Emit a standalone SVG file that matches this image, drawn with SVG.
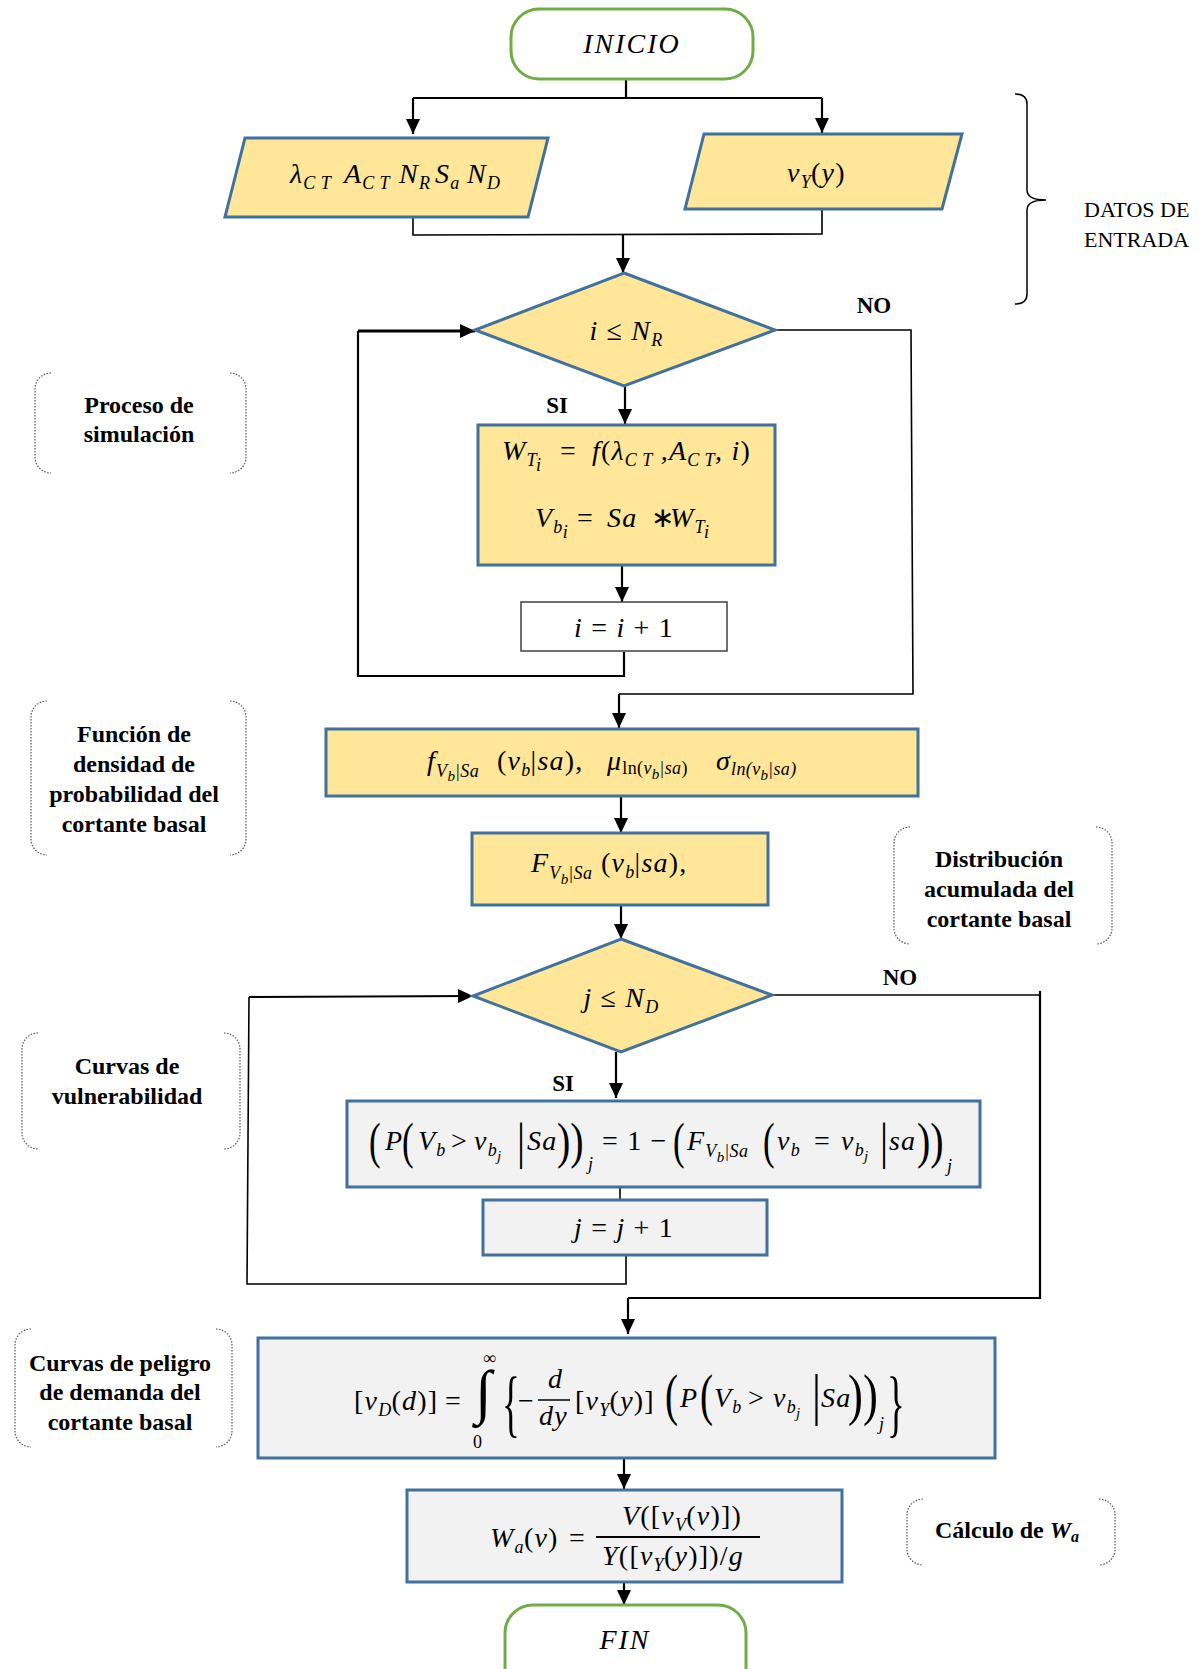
<svg xmlns="http://www.w3.org/2000/svg" width="1199" height="1669" viewBox="0 0 1199 1669">
<defs>
<style>
.y{fill:#FFE699;stroke:#41719C;stroke-width:3}
.g{fill:#F2F2F2;stroke:#41719C;stroke-width:3}
.w{fill:#FFFFFF;stroke:#404040;stroke-width:1.5}
.term{fill:#FFFFFF;stroke:#70AD47;stroke-width:3}
.c{fill:none;stroke:#000;stroke-width:2.2}
.ct{fill:none;stroke:#000;stroke-width:1.6}
.ca{fill:none;stroke:#000;stroke-width:2.2;marker-end:url(#ah)}
.ann{fill:none;stroke:#555;stroke-width:1.2;stroke-dasharray:1.5 1.5}
.m{font-family:"Liberation Serif",serif;font-style:italic;font-size:28px;letter-spacing:1.2px;fill:#000}
.s{font-size:18px;letter-spacing:0.4px}
.ss{font-size:15px;letter-spacing:0}
.u{font-style:normal}
.bd{font-family:"Liberation Serif",serif;font-size:50px;fill:#000}
.bb{font-family:"Liberation Serif",serif;font-size:56px;fill:#000}
.lbl{font-family:"Liberation Serif",serif;font-weight:bold;font-size:23px;text-anchor:middle;fill:#000}
.note{font-family:"Liberation Serif",serif;font-weight:bold;font-size:24px;text-anchor:middle;fill:#000}
.reg{font-family:"Liberation Serif",serif;font-size:22px;fill:#000}
</style>
<marker id="ah" markerUnits="userSpaceOnUse" markerWidth="16" markerHeight="14" refX="15" refY="7" orient="auto">
<path d="M0,0 L15,7 L0,14 z" fill="#000"/>
</marker>
</defs>
<rect width="1199" height="1669" fill="#FFFFFF"/>

<g id="connectors">
<polyline class="c" points="626,79 626,98"/>
<polyline class="c" points="413,98 822,98"/>
<polyline class="ca" points="413,98 413,134"/>
<polyline class="ca" points="822,98 822,133"/>
<polyline class="ct" points="413,217 413,235 822,234 822,209"/>
<polyline class="ca" points="623,235 623,273"/>
<polyline class="ct" points="775,330 911,330 913,694 619,694"/>
<polyline class="ca" points="619,694 619,728"/>
<polyline class="ca" points="625,386 625,424"/>
<polyline class="ca" points="622,565 622,602"/>
<polyline class="c" points="624,652 624,676 358,676 358,331"/>
<polyline class="ca" style="stroke-width:3" points="358,331 475,331"/>
<polyline class="ca" points="621,796 621,833"/>
<polyline class="ca" points="621,905 621,939"/>
<polyline class="ct" points="772,995 1040,995"/>
<polyline class="c" points="1040,991 1040,1298 628,1298"/>
<polyline class="ca" points="628,1298 628,1334"/>
<polyline class="ca" points="616,1052 616,1098"/>
<polyline class="ct" points="620,1187 620,1200"/>
<polyline class="ct" points="626,1255 626,1284 247,1284 249,997"/>
<polyline class="ca" points="249,997 473,996"/>
<polyline class="ca" points="624,1458 624,1489"/>
<polyline class="ca" points="624,1582 624,1605"/>
</g>

<g id="labels">
<text class="lbl" x="874" y="313">NO</text>
<text class="lbl" x="557" y="413">SI</text>
<text class="lbl" x="900" y="985">NO</text>
<text class="lbl" x="563" y="1091">SI</text>
</g>

<g id="inicio">
<rect class="term" x="511" y="9" width="242" height="70" rx="28"/>
<text class="m" x="632" y="53" text-anchor="middle" style="letter-spacing:2px">INICIO</text>
</g>

<g id="input-params">
<polygon class="y" points="245,138 548,138 528,217 225,217"/>
<text class="m" y="183"><tspan x="290">λ</tspan><tspan class="s" dy="6">C T</tspan><tspan x="344" dy="-6">A</tspan><tspan class="s" dy="6">C T</tspan><tspan x="399" dy="-6">N</tspan><tspan class="s" dy="6">R</tspan><tspan x="435" dy="-6">S</tspan><tspan class="s" dy="6">a</tspan><tspan x="467" dy="-6">N</tspan><tspan class="s" dy="6">D</tspan></text>
</g>

<g id="input-vy">
<polygon class="y" points="704,134 962,134 942,209 685,209"/>
<text class="m" y="182"><tspan x="787">ν</tspan><tspan class="s" dy="6">Y</tspan><tspan class="u" dy="-6">(</tspan>y<tspan class="u">)</tspan></text>
</g>

<g id="brace">
<path d="M1015,94 Q1027,94 1027,104 L1027,190 Q1027,200 1046,200 Q1027,200 1027,210 L1027,294 Q1027,304 1015,304" fill="none" stroke="#000" stroke-width="1.5"/>
<text class="reg" x="1084" y="217">DATOS DE</text>
<text class="reg" x="1084" y="247">ENTRADA</text>
</g>

<g id="decision-i">
<polygon class="y" points="624,273 775,330 624,386 475,330"/>
<text class="m" x="626" y="340" text-anchor="middle">i<tspan class="u"> ≤ </tspan>N<tspan class="s" dy="6">R</tspan></text>
</g>

<g id="process-w">
<rect class="y" x="478" y="425" width="297" height="140"/>
<text class="m" y="460"><tspan x="502">W</tspan><tspan class="s" dy="6">T</tspan><tspan class="s" dy="5">i</tspan><tspan class="u" x="560" dy="-11">=</tspan><tspan x="592">f</tspan><tspan class="u">(</tspan>λ<tspan class="s" dy="6">C T</tspan><tspan dy="-6"> ,</tspan>A<tspan class="s" dy="6">C T</tspan><tspan dy="-6">, i</tspan><tspan class="u">)</tspan></text>
<text class="m" y="527"><tspan x="535">V</tspan><tspan class="s" dy="6">b</tspan><tspan class="s" dy="5">i</tspan><tspan class="u" x="577" dy="-11">=</tspan><tspan x="607">Sa</tspan><tspan class="u" x="651">∗</tspan><tspan x="670">W</tspan><tspan class="s" dy="6">T</tspan><tspan class="s" dy="5">i</tspan></text>
</g>

<g id="process-i">
<rect class="w" x="521" y="602" width="206" height="49"/>
<text class="m" x="624" y="637" text-anchor="middle">i<tspan class="u"> = </tspan>i<tspan class="u"> + 1</tspan></text>
</g>

<g id="density">
<rect class="y" x="326" y="729" width="592" height="67"/>
<text class="m" y="770"><tspan x="427">f</tspan><tspan class="s" dy="7">V</tspan><tspan class="ss" dy="4">b</tspan><tspan class="s" dy="-4">|Sa</tspan><tspan class="u" x="497" dy="-7">(</tspan>v<tspan class="s" dy="6">b</tspan><tspan class="u" dy="-6">|</tspan>sa<tspan class="u">),</tspan><tspan x="607">μ</tspan><tspan class="s u" dy="4">ln(</tspan><tspan class="s">v</tspan><tspan class="ss" dy="5">b</tspan><tspan class="s" dy="-5">|sa</tspan><tspan class="s u">)</tspan><tspan x="716" dy="-4">σ</tspan><tspan class="s" dy="5">ln(v</tspan><tspan class="ss" dy="5">b</tspan><tspan class="s" dy="-5">|sa)</tspan></text>
</g>

<g id="cumulative">
<rect class="y" x="472" y="833" width="296" height="72"/>
<text class="m" y="872"><tspan x="531">F</tspan><tspan class="s" dy="7">V</tspan><tspan class="ss" dy="5">b</tspan><tspan class="s" dy="-5">|Sa</tspan><tspan class="u" x="601" dy="-7">(</tspan>v<tspan class="s" dy="6">b</tspan><tspan class="u" dy="-6">|</tspan>sa<tspan class="u">),</tspan></text>
</g>

<g id="decision-j">
<polygon class="y" points="621,939 772,995 621,1052 473,996"/>
<text class="m" x="621" y="1007" text-anchor="middle">j<tspan class="u"> ≤ </tspan>N<tspan class="s" dy="6">D</tspan></text>
</g>

<g id="process-p">
<rect class="g" x="347" y="1101" width="633" height="86"/>
<text class="bd" transform="translate(369,1158) scale(0.7,1)">(</text>
<text class="bd" transform="translate(402,1158) scale(0.7,1)">(</text>
<text class="bd" transform="translate(517,1158) scale(0.8,1)">|</text>
<text class="bd" transform="translate(557,1158) scale(0.8,1)">))</text>
<text class="bd" transform="translate(673,1158) scale(0.7,1)">(</text>
<text class="bd" transform="translate(763,1158) scale(0.7,1)">(</text>
<text class="bd" transform="translate(880,1158) scale(0.8,1)">|</text>
<text class="bd" transform="translate(917,1158) scale(0.8,1)">))</text>
<text class="m" y="1150"><tspan x="385">P</tspan><tspan x="418">V</tspan><tspan class="s" dy="6">b</tspan><tspan class="u" x="451" dy="-6">&gt;</tspan><tspan x="474">v</tspan><tspan class="s" dy="6">b</tspan><tspan class="ss" dy="5">j</tspan><tspan x="527" dy="-11">Sa</tspan><tspan class="s" x="588" dy="20">j</tspan><tspan class="u" x="602" dy="-20">= 1 −</tspan><tspan x="687">F</tspan><tspan class="s" dy="7">V</tspan><tspan class="ss" dy="5">b</tspan><tspan class="s" dy="-5">|Sa</tspan><tspan x="777" dy="-7">v</tspan><tspan class="s" dy="6">b</tspan><tspan class="u" x="814" dy="-6">=</tspan><tspan x="841">v</tspan><tspan class="s" dy="6">b</tspan><tspan class="ss" dy="5">j</tspan><tspan x="889" dy="-11">sa</tspan><tspan class="s" x="947" dy="22">j</tspan></text>
</g>

<g id="process-j">
<rect class="g" x="483" y="1200" width="284" height="55"/>
<text class="m" x="624" y="1237" text-anchor="middle">j<tspan class="u"> = </tspan>j<tspan class="u"> + 1</tspan></text>
</g>

<g id="hazard">
<rect class="g" x="258" y="1338" width="737" height="120"/>
<line x1="538" y1="1400" x2="570" y2="1400" stroke="#000" stroke-width="1.5"/>
<text class="bd" style="font-size:60px" x="475" y="1412">∫</text>
<text class="bd" transform="translate(502,1428) scale(0.5,1)" style="font-size:74px">{</text>
<text class="bd" transform="translate(887,1428) scale(0.5,1)" style="font-size:74px">}</text>
<text class="bb" transform="translate(665,1414) scale(0.7,1)">(</text>
<text class="bb" transform="translate(700,1414) scale(0.7,1)">(</text>
<text class="bb" transform="translate(812,1414) scale(0.8,1)">|</text>
<text class="bb" transform="translate(848,1414) scale(0.8,1)">))</text>
<text class="m" y="1410"><tspan class="u" x="354">[</tspan>ν<tspan class="s" dy="6">D</tspan><tspan class="u" dy="-6">(</tspan>d<tspan class="u">)]</tspan><tspan class="u" x="445">=</tspan><tspan class="s u" x="483" y="1364">∞</tspan><tspan class="s u" x="473" y="1448">0</tspan><tspan class="u" x="518" y="1410">−</tspan><tspan x="548" y="1388">d</tspan><tspan x="539" y="1425">dy</tspan><tspan class="u" x="575" y="1410">[</tspan>ν<tspan class="s" dy="6">Y</tspan><tspan class="u" dy="-6">(</tspan>y<tspan class="u">)]</tspan><tspan x="680" y="1407">P</tspan><tspan x="714">V</tspan><tspan class="s" dy="6">b</tspan><tspan class="u" x="748" dy="-6">&gt;</tspan><tspan x="773">v</tspan><tspan class="s" dy="6">b</tspan><tspan class="ss" dy="5">j</tspan><tspan x="821" dy="-11">Sa</tspan><tspan class="s" x="879" y="1430">j</tspan></text>
</g>

<g id="wa">
<rect class="g" x="407" y="1490" width="435" height="92"/>
<line x1="596" y1="1537" x2="760" y2="1537" stroke="#000" stroke-width="2"/>
<text class="m" y="1547"><tspan x="490">W</tspan><tspan class="s" dy="6">a</tspan><tspan class="u" dy="-6">(</tspan>v<tspan class="u">)</tspan><tspan class="u" x="569">=</tspan></text>
<text class="m" x="682" y="1525" text-anchor="middle">V<tspan class="u">([</tspan>ν<tspan class="s" dy="6">V</tspan><tspan class="u" dy="-6">(</tspan>v<tspan class="u">)])</tspan></text>
<text class="m" x="673" y="1565" text-anchor="middle">Y<tspan class="u">([</tspan>ν<tspan class="s" dy="6">Y</tspan><tspan class="u" dy="-6">(</tspan>y<tspan class="u">)])/</tspan>g</text>
</g>

<g id="fin">
<rect class="term" x="505" y="1605" width="241" height="95" rx="28"/>
<text class="m" x="625" y="1649" text-anchor="middle" style="letter-spacing:2px">FIN</text>
</g>

<g id="note-simulacion">
<path class="ann" d="M51,373 A16,16 0 0 0 35,389 L35,457 A16,16 0 0 0 51,473 M230,373 A16,16 0 0 1 246,389 L246,457 A16,16 0 0 1 230,473"/>
<text class="note" x="139" y="413">Proceso de</text>
<text class="note" x="139" y="442">simulación</text>
</g>

<g id="note-densidad">
<path class="ann" d="M47,701 A16,16 0 0 0 31,717 L31,839 A16,16 0 0 0 47,855 M230,701 A16,16 0 0 1 246,717 L246,839 A16,16 0 0 1 230,855"/>
<text class="note" x="134" y="742">Función de</text>
<text class="note" x="134" y="772">densidad de</text>
<text class="note" x="134" y="802">probabilidad del</text>
<text class="note" x="134" y="832">cortante basal</text>
</g>

<g id="note-distribucion">
<path class="ann" d="M910,827 A16,16 0 0 0 894,843 L894,928 A16,16 0 0 0 910,944 M1096,827 A16,16 0 0 1 1112,843 L1112,928 A16,16 0 0 1 1096,944"/>
<text class="note" x="999" y="867">Distribución</text>
<text class="note" x="999" y="897">acumulada del</text>
<text class="note" x="999" y="927">cortante basal</text>
</g>

<g id="note-vulnerabilidad">
<path class="ann" d="M38,1033 A16,16 0 0 0 22,1049 L22,1133 A16,16 0 0 0 38,1149 M224,1033 A16,16 0 0 1 240,1049 L240,1133 A16,16 0 0 1 224,1149"/>
<text class="note" x="127" y="1074">Curvas de</text>
<text class="note" x="127" y="1104">vulnerabilidad</text>
</g>

<g id="note-peligro">
<path class="ann" d="M31,1329 A16,16 0 0 0 15,1345 L15,1431 A16,16 0 0 0 31,1447 M216,1329 A16,16 0 0 1 232,1345 L232,1431 A16,16 0 0 1 216,1447"/>
<text class="note" x="120" y="1371">Curvas de peligro</text>
<text class="note" x="120" y="1400">de demanda del</text>
<text class="note" x="120" y="1430">cortante basal</text>
</g>

<g id="note-wa">
<path class="ann" d="M923,1499 A16,16 0 0 0 907,1515 L907,1549 A16,16 0 0 0 923,1565 M1099,1499 A16,16 0 0 1 1115,1515 L1115,1549 A16,16 0 0 1 1099,1565"/>
<text class="note" x="1007" y="1538">Cálculo de <tspan font-style="italic">W<tspan font-size="16px" dy="4">a</tspan></tspan></text>
</g>
</svg>
